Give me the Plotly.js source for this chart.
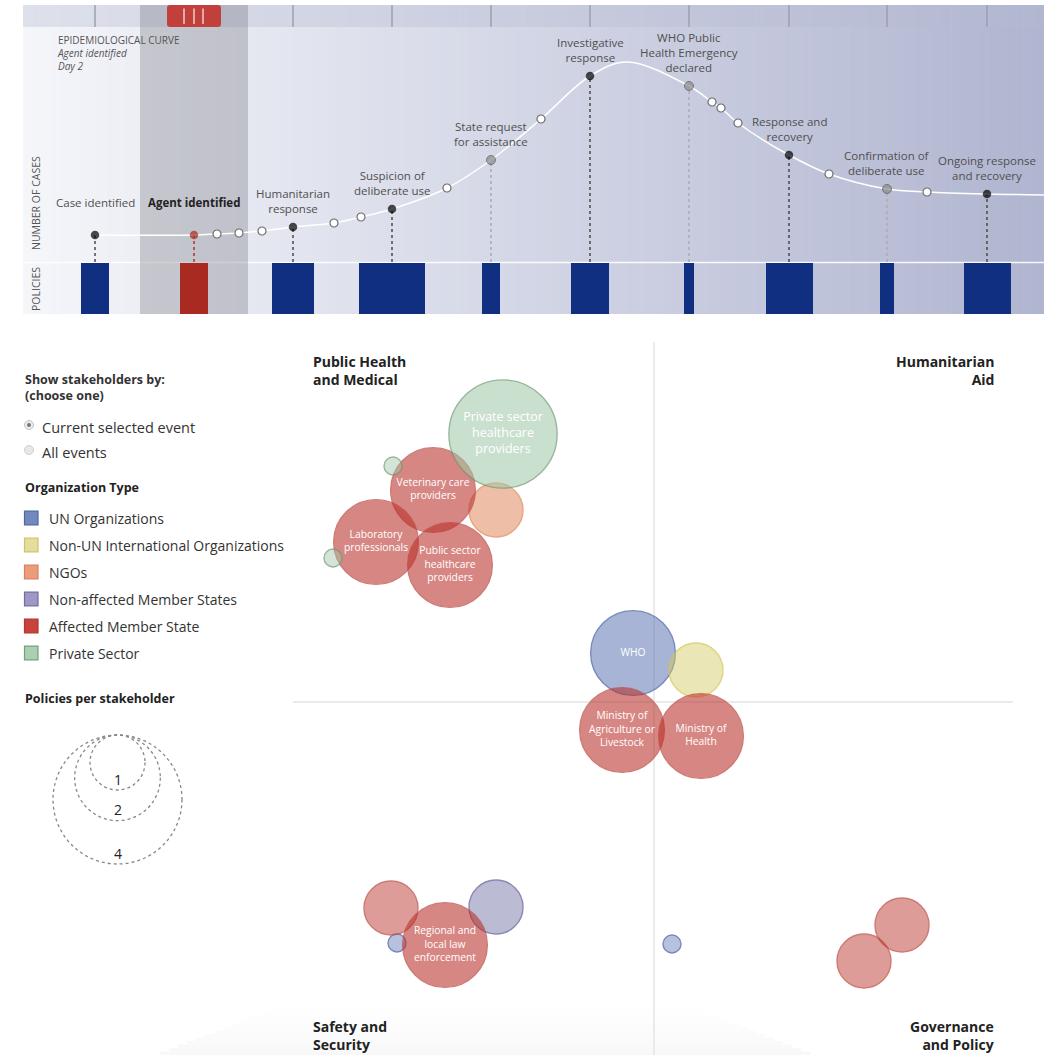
<!DOCTYPE html>
<html><head><meta charset="utf-8">
<script src="https://cdn.plot.ly/plotly-3.0.1.min.js"></script>
<style>html,body{margin:0;padding:0;background:#fff}#chart{width:1044px;height:1055px}</style>
</head><body><div id="chart"></div>
<script>
// ---------------- DATA ----------------
const eventLabels = ["Case identified","Agent identified","Humanitarian<br>response","Suspicion of<br>deliberate use","State request<br>for assistance","Investigative<br>response","WHO Public<br>Health Emergency<br>declared","Response and<br>recovery","Confirmation of<br>deliberate use","Ongoing response<br>and recovery"];
const eventPos = [95,194,293,392,491,590,689,789,887,987];           // timeline position
const eventCases = [27,27,35,53,102,186,176,107,73,68];              // number of cases
const eventKind = ["major","selected","major","major","minor","major","minor","major","minor","major"];
const eventPolicies = [6,6,9,14,4,8,2,10,3,10];
const stepPos = [217,239,262,334,361,447,541,712,721,738,829,927];
const stepCases = [28,29,31,39,45,74,143,160,154,139,88,70];
const curvePos = [95,194,217,239,262,293,334,361,392,447,491,541,590,627,689,712,721,738,789,829,887,927,987,1044];
const curveCases = [27,27,28,29,31,35,39,45,53,74,102,143,186,200,176,160,154,139,107,88,73,70,68,67];
const selectedEvent = 1;
const selectedDay = 2;

const orgTypes = ["UN Organizations","Non-UN International Organizations","NGOs","Non-affected Member States","Affected Member State","Private Sector"];
const stakeholderLabels = ["Private sector<br>healthcare<br>providers","Veterinary care<br>providers","","","Laboratory<br>professionals","","Public sector<br>healthcare<br>providers","WHO","","Ministry of<br>Agriculture or<br>Livestock","Ministry of<br>Health","","","Regional and<br>local law<br>enforcement","","","",""];
const stakeholderType = [5,4,2,5,4,5,4,0,1,4,4,4,3,4,0,0,4,4];
const stakeholderPolicies = [3,2,1,0,2,0,2,2,1,2,2,1,1,2,0,0,1,1];
const stakeholderX = [-151,-221,-158,-261,-278,-321,-204,-21,42,-32,47,-263,-158,-209,-257,18,248,210];
const stakeholderY = [268,212,192,236,160,144,137,49,32,-28,-34,-206,-205,-243,-241,-242,-223,-259];
const quadrantLabels = ["Public Health<br>and Medical","Humanitarian<br>Aid","Safety and<br>Security","Governance<br>and Policy"];
const legendPolicyValues = [1,2,4];

// ---------------- STYLE ----------------
const W = 1044, H = 1055;
const FONT = "Open Sans, sans-serif";
const px = x => x / W, py = y => 1 - y / H;
const typeBase = [[100,122,182],[213,202,95],[218,115,65],[113,110,163],[185,42,35],[162,200,170]];
const typeLine = ["#3d5aa3","#d4c44c","#e0804d","#5a5597","#b8443d","#6a9b6f"];
const legendFill = ["#7289be","#e4dd9f","#eb9c7b","#9d98c4","#c8433b","#aacfb1"];
const legendLine = ["#4e66a3","#cfc46c","#d98060","#726ca3","#b0362f","#76a07b"];
const diam = n => Math.max(19, 74*Math.sqrt(n) - 19);

const shapes = [], annotations = [];

// gradient panel (timeline)
const N = 110, x0p = 23, x1p = W;
const lerp = (a,b,t) => Math.round(a + (b-a)*t);
for (let i = 0; i < N; i++) {
  const t = (i + 0.5) / N;
  const xa = x0p + (x1p - x0p) * i / N, xb = x0p + (x1p - x0p) * (i + 1) / N + 0.6;
  const c = `rgb(${lerp(245,176,t)},${lerp(246,181,t)},${lerp(250,208,t)})`;
  const cs = `rgb(${lerp(222,178,t)},${lerp(225,183,t)},${lerp(235,209,t)})`;
  shapes.push({type:"rect",xref:"paper",yref:"paper",x0:px(xa),x1:px(Math.min(xb,W)),y0:py(314),y1:py(27),fillcolor:c,line:{width:0},layer:"below"});
  shapes.push({type:"rect",xref:"paper",yref:"paper",x0:px(xa),x1:px(Math.min(xb,W)),y0:py(27),y1:py(5),fillcolor:cs,line:{width:0},layer:"below"});
}
// separator between curve and policies
shapes.push({type:"line",xref:"paper",yref:"paper",x0:px(23),x1:1,y0:py(262.5),y1:py(262.5),line:{color:"rgba(255,255,255,0.9)",width:1.5},layer:"below"});
// strip separators
eventPos.forEach((p,i) => {
  shapes.push({type:"line",xref:"x",yref:"paper",x0:p,x1:p,y0:py(27),y1:py(5),line:{color:"#9c9fac",width:1.5},layer:"below"});
});
// selected band
const sel = eventPos[selectedEvent];
shapes.push({type:"rect",xref:"x",yref:"paper",x0:sel-54,x1:sel+54,y0:py(314),y1:py(5),fillcolor:"rgba(105,105,115,0.3)",line:{width:0},layer:"below"});
// drop lines
eventPos.forEach((p,i) => {
  const col = eventKind[i]==="major" ? "#4a4a4a" : eventKind[i]==="selected" ? "#b5302a" : "#a9abb3";
  shapes.push({type:"line",xref:"x",yref:"y",x0:p,x1:p,y0:0,y1:eventCases[i],line:{color:col,width:1.5,dash:"dot"},layer:"below"});
});
// handle (rounded)
{
  const a = px(sel-27), b = px(sel+27), t = py(5), bt = py(27), rx = 3/W, ry = 3/H;
  shapes.push({type:"path",xref:"paper",yref:"paper",
    path:`M ${a+rx} ${t} L ${b-rx} ${t} Q ${b} ${t} ${b} ${t-ry} L ${b} ${bt+ry} Q ${b} ${bt} ${b-rx} ${bt} L ${a+rx} ${bt} Q ${a} ${bt} ${a} ${bt+ry} L ${a} ${t-ry} Q ${a} ${t} ${a+rx} ${t} Z`,
    fillcolor:"#c2403c",line:{width:0},layer:"above"});
  [-10,0,9].forEach(d => shapes.push({type:"line",xref:"x",yref:"paper",x0:sel+d,x1:sel+d,y0:py(8.5),y1:py(24),line:{color:"rgba(255,255,255,0.85)",width:1.3},layer:"above"}));
}
// quadrant lines
shapes.push({type:"line",xref:"x3",yref:"y3",x0:0,x1:0,y0:-353,y1:360,line:{color:"#e4e4e4",width:1.5},layer:"below"});
shapes.push({type:"line",xref:"x3",yref:"y3",x0:-361,x1:359,y0:0,y1:0,line:{color:"#e4e4e4",width:1.5},layer:"below"});
// bottom soft shadow
for (let k = 0; k < 14; k++) {
  shapes.push({type:"rect",xref:"paper",yref:"paper",x0:px(160+k*9),x1:px(810-k*9),y0:py(1055-k*3.5),y1:py(1055-(k+1)*3.5),fillcolor:`rgba(0,0,0,${(0.026*(1-k/14)).toFixed(4)})`,line:{width:0},layer:"below"});
}

// Left panel texts
const A = (x,y,text,opt={}) => annotations.push(Object.assign({xref:"paper",yref:"paper",x:px(x),y:py(y),text,showarrow:false,xanchor:"left",yanchor:"middle",align:"left",font:{family:FONT,size:14,color:"#333"}},opt));
A(23,387,"<b>Show stakeholders by:</b><br><b>(choose one)</b>",{font:{family:FONT,size:12.5,color:"#333"}});
A(40,427,"Current selected event",{font:{family:FONT,size:14.5,color:"#333"}});
A(40,452,"All events",{font:{family:FONT,size:14.5,color:"#333"}});
shapes.push({type:"circle",xref:"paper",yref:"paper",x0:px(24.5),x1:px(33.5),y0:py(429.5),y1:py(420.5),fillcolor:"#ececec",line:{color:"#c4c4c4",width:1}});
shapes.push({type:"circle",xref:"paper",yref:"paper",x0:px(27),x1:px(31),y0:py(427),y1:py(423),fillcolor:"#777",line:{width:0}});
shapes.push({type:"circle",xref:"paper",yref:"paper",x0:px(24.5),x1:px(33.5),y0:py(454.5),y1:py(445.5),fillcolor:"#e8e8e8",line:{color:"#cfcfcf",width:1}});
A(23,487,"<b>Organization Type</b>",{font:{family:FONT,size:12.5,color:"#222"}});
orgTypes.forEach((t,i) => {
  const yc = 518 + i*27;
  shapes.push({type:"rect",xref:"paper",yref:"paper",x0:px(24.5),x1:px(38),y0:py(yc+6.8),y1:py(yc-6.8),fillcolor:legendFill[i],line:{color:legendLine[i],width:1.2}});
  A(47,yc,t,{font:{family:FONT,size:14,color:"#333"}});
});
A(23,698,"<b>Policies per stakeholder</b>",{font:{family:FONT,size:12.5,color:"#222"}});
legendPolicyValues.forEach(v => {
  const d = diam(v), cx = 117.5, top = 735;
  shapes.push({type:"circle",xref:"paper",yref:"paper",x0:px(cx-d/2),x1:px(cx+d/2),y0:py(top+d),y1:py(top),line:{color:"#888",width:1.3,dash:"dot"}});
  A(cx,top+d-11,String(v),{xanchor:"center",font:{family:FONT,size:14,color:"#222"}});
});

// Top-left caption
A(55,31,`EPIDEMIOLOGICAL CURVE<br><i>${eventLabels[selectedEvent]}</i><br><i>Day ${selectedDay}</i>`,{yanchor:"top",font:{family:FONT,size:10,color:"#555"}});
// axis titles
A(36,203,"NUMBER OF CASES",{xanchor:"center",textangle:-90,font:{family:FONT,size:10.5,color:"#555"}});
A(36,289,"POLICIES",{xanchor:"center",textangle:-90,font:{family:FONT,size:10.5,color:"#555"}});
// Event labels
eventLabels.forEach((lab,i) => {
  annotations.push({xref:"x",yref:"y",x:eventPos[i],y:eventCases[i],text:i===selectedEvent?`<b>${lab}</b>`:lab,showarrow:false,xanchor:"center",yanchor:"bottom",align:"center",yshift:i<2?23:9,font:{family:FONT,size:11.5,color:i===selectedEvent?"#222":"#4f4f4f"}});
});
// Quadrant labels
const ql = [[311,371,"left"],[996,371,"right"],[311,1035,"left"],[996,1035,"right"]];
quadrantLabels.forEach((t,i) => A(ql[i][0],ql[i][1],`<b>${t.replace("<br>","</b><br><b>")}</b>`,{xanchor:ql[i][2],align:ql[i][2],font:{family:FONT,size:14,color:"#222"}}));

// ---------------- TRACES ----------------
const traces = [];
traces.push({x:curvePos,y:curveCases,xaxis:"x",yaxis:"y",mode:"lines",line:{color:"#ffffff",width:1.5,shape:"spline",smoothing:1},hoverinfo:"skip"});
traces.push({x:stepPos,y:stepCases,xaxis:"x",yaxis:"y",mode:"markers",marker:{size:8,color:"#ffffff",line:{color:"#6e6e6e",width:1.2}},hoverinfo:"skip"});
traces.push({x:eventPos,y:eventCases,xaxis:"x",yaxis:"y",mode:"markers",
  marker:{size:eventKind.map(k=>k==="minor"?9:8.5),
          color:eventKind.map(k=>k==="major"?"#000":k==="selected"?"#a82a21":"#8b8b8b"),
          line:{color:eventKind.map(k=>k==="minor"?"#555":"rgba(0,0,0,0)"),width:1}},hoverinfo:"skip"});
traces.push({type:"bar",x:eventPos,y:eventPos.map(()=>1),base:0,xaxis:"x2",yaxis:"y2",
  width:eventPolicies.map(n=>n*4.7),marker:{color:eventKind.map(k=>k==="selected"?"#a82a21":"#112f80"),line:{width:0}},hoverinfo:"skip"});

orgTypes.forEach((t,ti) => {
  const idx = stakeholderType.map((v,i)=>v===ti?i:-1).filter(i=>i>=0);
  const b = typeBase[ti];
  traces.push({x:idx.map(i=>stakeholderX[i]),y:idx.map(i=>stakeholderY[i]),xaxis:"x3",yaxis:"y3",mode:"markers",name:t,
    marker:{size:idx.map(i=>diam(stakeholderPolicies[i])-1),sizemode:"diameter",
      color:idx.map(i=>`rgba(${b[0]},${b[1]},${b[2]},${stakeholderLabels[i]?(ti===5?0.8:0.8):0.66})`),
      line:{color:typeLine[ti],width:1.4}},hoverinfo:"skip"});
});
traces.push({x:stakeholderX,y:stakeholderY,xaxis:"x3",yaxis:"y3",mode:"text",text:stakeholderLabels,textposition:"middle center",
  textfont:{family:FONT,size:stakeholderPolicies.map(n=>n>=3?12.5:10.3),color:"#ffffff"},hoverinfo:"skip"});

const ax = (o) => Object.assign({visible:false,fixedrange:true,showgrid:false,zeroline:false},o);
const layout = {
  width:W,height:H,margin:{l:0,r:0,t:0,b:0,pad:0},paper_bgcolor:"#ffffff",plot_bgcolor:"rgba(0,0,0,0)",
  showlegend:false,hovermode:false,bargap:0,
  xaxis:ax({domain:[0,1],range:[0,W],anchor:"y"}),
  yaxis:ax({domain:[py(262),py(27)],range:[0,235],anchor:"x"}),
  xaxis2:ax({domain:[0,1],range:[0,W],anchor:"y2"}),
  yaxis2:ax({domain:[py(314),py(263)],range:[0,1],anchor:"x2"}),
  xaxis3:ax({domain:[0,1],range:[-654,390],anchor:"y3"}),
  yaxis3:ax({domain:[0,py(330)],range:[-353,372],anchor:"x3"}),
  shapes,annotations,font:{family:FONT}
};
Plotly.newPlot("chart",traces,layout,{staticPlot:true,displayModeBar:false});
</script></body></html>
